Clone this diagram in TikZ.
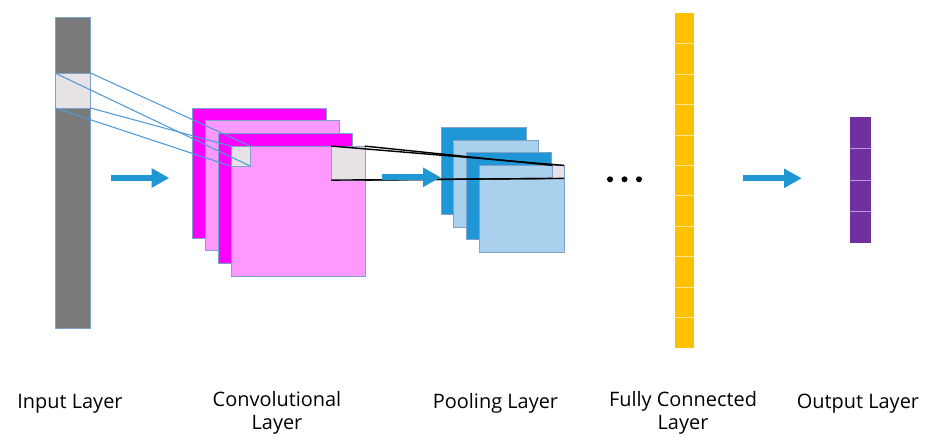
\documentclass[tikz,border=0pt]{standalone}
\usepackage{fontspec}
\setmainfont{Open Sans}
\usetikzlibrary{calc,positioning,arrows.meta}
\definecolor{InGray}{HTML}{7A7A7A}
\definecolor{WinGray}{HTML}{E6E2E6}
\definecolor{EdgeBlue}{HTML}{7FA3C8}
\definecolor{LineBlue}{HTML}{4F9AD6}
\definecolor{ConvDark}{HTML}{FF00FF}
\definecolor{ConvLight}{HTML}{FF99FF}
\definecolor{PoolDark}{HTML}{1F96D6}
\definecolor{PoolLight}{HTML}{A9D0EC}
\definecolor{FlowBlue}{HTML}{1F97D5}
\definecolor{FcYellow}{HTML}{FFC000}
\definecolor{FcLine}{HTML}{FFE49A}
\definecolor{OutPurple}{HTML}{7030A0}
\definecolor{OutLine}{HTML}{B99AD2}

\begin{document}
\begin{tikzpicture}[
      x=0.03cm, y=-0.03cm,
      box/.style={
        rectangle, anchor=north west, inner sep=0pt, outer sep=0pt,
        line width=0.4pt
      },
      win/.style={box, fill=WinGray, draw=EdgeBlue},
      sheet/.style={box, draw=EdgeBlue, minimum width=4.02cm, minimum height=3.9cm},
      pane/.style={box, draw=EdgeBlue, minimum width=2.55cm, minimum height=2.61cm},
      proj/.style={LineBlue, line width=0.9pt},
      tie/.style={black, line width=1.2pt},
      flow/.style={FlowBlue, line width=5pt,
        -{Triangle[length=0.53cm, width=0.55cm]}},
      cell/.style={line width=0.6pt},
      layername/.style={
        anchor=base, inner sep=0pt, align=center,
        font=\fontsize{17}{19.6}\selectfont
      }
    ]
      \useasboundingbox (0,0) rectangle (928,437);

      \node[box, fill=InGray, draw=EdgeBlue, minimum width=1.065cm, minimum height=9.33cm] (in) at (55,17) {};
      \node[win, minimum width=1.065cm, minimum height=1.05cm] (inw) at (55,73) {};

      \foreach \i/\c in {0/ConvDark,1/ConvLight,2/ConvDark,3/ConvLight}
        \node[sheet, fill=\c] (c\i) at (192.7+12.7*\i,108+12.7*\i) {};
      \node[win, minimum width=0.585cm, minimum height=0.6cm] (cs) at (c3.north west) {};
      \node[win, anchor=north east, minimum width=1.0cm, minimum height=1.02cm] (cw) at (c3.north east) {};

      \draw[proj] (inw.north west) -- (cs.south east);
      \draw[proj] (inw.north east) -- (cs.north east);
      \draw[proj] (inw.south east) -- (cs.north west);
      \draw[proj] (inw.south west) -- (cs.south west);

      \foreach \i/\c in {0/PoolDark,1/PoolLight,2/PoolDark,3/PoolLight}
        \node[pane, fill=\c] (p\i) at (441+12.7*\i,127.3+12.7*\i) {};
      \node[win, anchor=north east, minimum width=0.35cm, minimum height=0.39cm] (pw) at (p3.north east) {};

      \draw[tie] (cw.north west) -- (pw.north east);
      \draw[tie] (cw.north east) -- (pw.north west);
      \draw[tie] (cw.south west) -- (pw.south east);
      \draw[tie] (cw.south east) -- (pw.south west);

      \node[box, fill=FcYellow, minimum width=0.57cm, minimum height=10.03cm] (fc) at (675.3,13.3) {};
      \foreach \i in {1,...,10}
        \draw[cell, FcLine] ($(fc.north west)!\i/11!(fc.south west)$) -- ($(fc.north east)!\i/11!(fc.south east)$);

      \node[box, fill=OutPurple, minimum width=0.61cm, minimum height=3.76cm] (out) at (850.3,117.3) {};
      \foreach \i in {1,...,3}
        \draw[cell, OutLine] ($(out.north west)!\i/4!(out.south west)$) -- ($(out.north east)!\i/4!(out.south east)$);

      \coordinate (a1s) at (111,178);   \coordinate (a1e) at (169.3,178);
      \coordinate (a2s) at (381.7,177.3); \coordinate (a2e) at (440.7,177.3);
      \coordinate (a3s) at (742.7,178.3); \coordinate (a3e) at (801.7,178.3);
      \draw[flow] (a1s) -- (a1e);
      \draw[flow] (a2s) -- (a2e);
      \draw[flow] (a3s) -- (a3e);

      \foreach \x in {610,624.5,639}
        \fill (\x,179.3) circle (3);

      \node[layername] (lin) at (70,408) {Input Layer};
      \node[layername] (lconv) at (277,429.5) {Convolutional\\Layer};
      \node[layername] (lpool) at (495.5,408) {Pooling Layer};
      \node[layername] (lfc) at (683,429.5) {Fully Connected\\Layer};
      \node[layername] (lout) at (858,408) {Output Layer};
    \end{tikzpicture}
\end{document}
